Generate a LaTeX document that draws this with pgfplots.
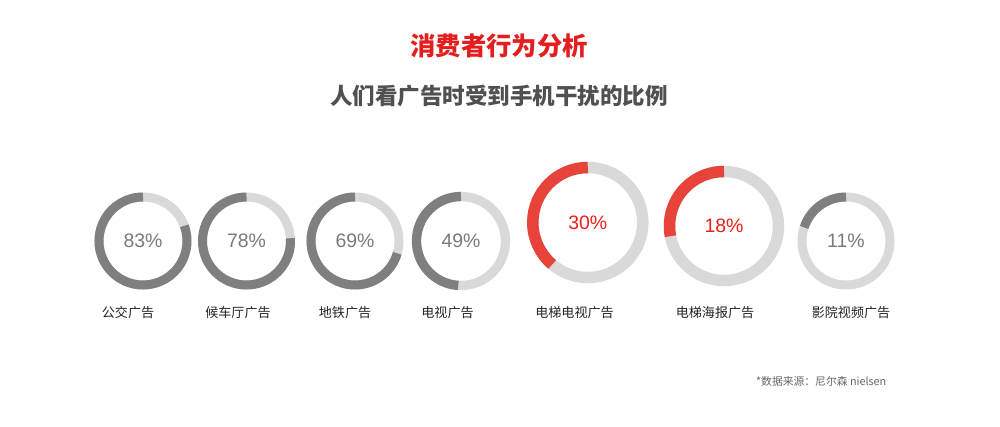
\documentclass[border=0pt]{standalone}
\usepackage{fontspec}
\usepackage{pgfplots}
\usepackage{pgfplotstable}
\pgfplotsset{compat=1.18}
\setmainfont{Liberation Sans}
\newfontfamily\cjk{Noto Sans CJK SC}

\definecolor{ringlight}{HTML}{D9D9D9}
\definecolor{ringdark}{HTML}{7F7F7F}
\definecolor{ringred}{HTML}{E8433A}
\definecolor{pctgray}{HTML}{7A7A7A}
\definecolor{pctred}{HTML}{E8201C}
\definecolor{titlered}{HTML}{E41E1E}
\definecolor{subgray}{HTML}{505050}
\definecolor{labcol}{HTML}{222222}
\definecolor{notegray}{HTML}{666666}

% ring centres in px (y counted from the bottom), radius and width in px,
% arc = share of the ring drawn in the dark colour, pct = printed value,
% hl = 1 for the red (highlighted) rings
\pgfplotstableread{
x     y     r     w     arc   pct  hl
143   185   44    9     80.6  83   0
246.5 185   44    9     76    78   0
355   185   44    9     70.5  69   0
461   185   44.5  9.3   49    49   0
587.8 203.5 55    11.5  38.8  30   1
724   200   54.5  11.5  28    18   1
846   185   44    9     20    11   0
}\rings

\begin{document}
\begin{tikzpicture}
\begin{axis}[
    x=0.75pt, y=0.75pt,
    xmin=0, xmax=1000, ymin=0, ymax=426,
    hide axis, clip=false,
]
\path (axis cs:0,0) rectangle (axis cs:1000,426);

\addplot[scatter, only marks, mark=text, text mark={},
    visualization depends on={\thisrow{r} \as \rr},
    visualization depends on={\thisrow{w} \as \rw},
    visualization depends on={\thisrow{arc} \as \rf},
    visualization depends on={\thisrow{pct} \as \rp},
    visualization depends on={\thisrow{hl} \as \rh},
    scatter/@pre marker code/.code={%
        \ifdim\rh pt>0.5pt
            \def\rc{ringred}\def\tc{pctred}%
        \else
            \def\rc{ringdark}\def\tc{pctgray}%
        \fi
        \draw[line width=0.75*\rw pt, draw=ringlight] (0,0) circle[radius=0.75*\rr pt];
        \draw[line width=0.75*\rw pt, draw=\rc] (90:0.75*\rr pt)
            arc[start angle=90, delta angle=3.6*\rf, radius=0.75*\rr pt];
        \node[text=\tc, font=\fontsize{14.6}{16}\selectfont] at (0,0)
            {\pgfmathprintnumber[fixed, precision=0, assume math mode=true]{\rp}\%};
    },
    scatter/@post marker code/.code={},
] table[x=x, y=y] {\rings};

% category names
\begin{scope}[every node/.style={font=\cjk\fontsize{9.8}{11}\selectfont, text=labcol}]
\node at (axis cs:128,113.5)   {公交广告};
\node at (axis cs:238,113.5)   {候车厅广告};
\node at (axis cs:345,113.5)   {地铁广告};
\node at (axis cs:447.5,113.5) {电视广告};
\node at (axis cs:574.5,113.5) {电梯电视广告};
\node at (axis cs:715,113.5)   {电梯海报广告};
\node at (axis cs:851,113.5)   {影院视频广告};
\end{scope}

\node[font=\cjk\bfseries\fontsize{19}{22}\selectfont, text=titlered]
    at (axis cs:499,380) {消费者行为分析};
\node[font=\cjk\bfseries\fontsize{16.9}{20}\selectfont, text=subgray]
    at (axis cs:499,330) {人们看广告时受到手机干扰的比例};
\node[font=\cjk\fontsize{8.1}{10}\selectfont, text=notegray, anchor=east]
    at (axis cs:891,45) {*数据来源：尼尔森 nielsen};
\end{axis}
\end{tikzpicture}
\end{document}
